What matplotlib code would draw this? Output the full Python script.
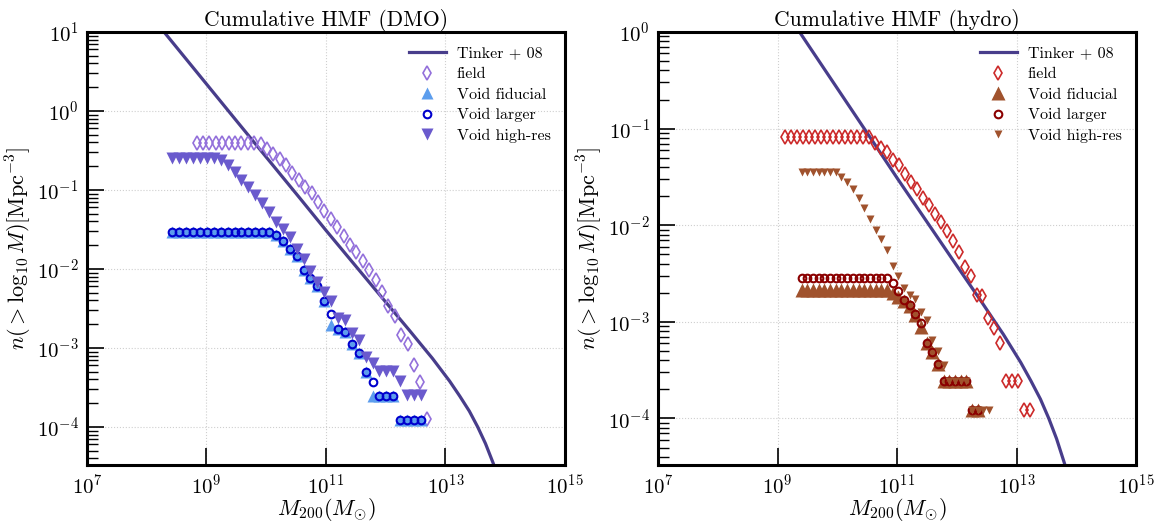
import numpy as np
import matplotlib
matplotlib.use("Agg")
import matplotlib.pyplot as plt
from matplotlib.ticker import FixedLocator, NullLocator, LogLocator

plt.rcParams["font.family"] = "serif"
plt.rcParams["font.serif"] = ["cmr10"]
plt.rcParams["mathtext.fontset"] = "cm"
plt.rcParams["axes.formatter.use_mathtext"] = True
plt.rcParams["axes.unicode_minus"] = False

# Tinker+08 cumulative mass function (log10 M, log10 n)
tinker_logm = [8.00, 8.29, 9.53, 10.57, 11.01, 11.99, 12.40, 12.66, 12.78, 12.91, 13.07,
               13.24, 13.40, 13.54, 13.67, 13.80, 13.92]
tinker_logn = [1.27, 1.00, -0.15, -1.11, -1.52, -2.41, -2.78, -3.02, -3.13, -3.26, -3.42,
               -3.61, -3.80, -4.00, -4.21, -4.46, -4.72]

# ---- DMO panel ----
dmo_field_logm = [8.835, 8.942, 9.049, 9.156, 9.263, 9.370, 9.477, 9.584, 9.691, 9.798,
                  9.905, 10.012, 10.119, 10.226, 10.333, 10.440, 10.547, 10.654, 10.761, 10.868,
                  10.975, 11.082, 11.189, 11.296, 11.403, 11.510, 11.617, 11.724, 11.831, 11.938,
                  12.045, 12.152, 12.259, 12.366, 12.473, 12.580, 12.687]
dmo_field_logn = [-0.40, -0.40, -0.40, -0.40, -0.40, -0.40, -0.40, -0.40, -0.40, -0.40,
                  -0.42, -0.48, -0.54, -0.61, -0.69, -0.78, -0.87, -0.96, -1.04, -1.15,
                  -1.26, -1.37, -1.47, -1.58, -1.70, -1.78, -1.90, -2.01, -2.14, -2.29,
                  -2.47, -2.59, -2.84, -2.95, -3.21, -3.43, -3.90]

dmo_void_logm = [8.430, 8.546, 8.661, 8.777, 8.892, 9.008, 9.123, 9.239, 9.354, 9.470,
                 9.585, 9.701, 9.816, 9.932, 10.047, 10.163, 10.278, 10.394, 10.509, 10.625,
                 10.740, 10.856, 10.971, 11.087, 11.202, 11.318, 11.433, 11.549, 11.664, 11.780,
                 11.895, 12.011, 12.126, 12.242, 12.357, 12.473, 12.588]
dmo_fid_logn = [-1.53, -1.53, -1.53, -1.53, -1.53, -1.53, -1.53, -1.53, -1.53, -1.53,
                -1.53, -1.53, -1.53, -1.53, -1.53, -1.57, -1.64, -1.75, -1.83, -2.01,
                -2.11, -2.22, -2.41, -2.71, -2.76, -2.80, -2.95, -3.07, -3.31, -3.61,
                -3.61, -3.61, -3.61, -3.91, -3.91, -3.91, -3.91]
dmo_large_logn = [-1.53, -1.53, -1.53, -1.53, -1.53, -1.53, -1.53, -1.53, -1.53, -1.53,
                  -1.53, -1.53, -1.53, -1.53, -1.53, -1.57, -1.64, -1.75, -1.83, -2.01,
                  -2.11, -2.22, -2.41, -2.57, -2.76, -2.80, -2.95, -3.07, -3.31, -3.43,
                  -3.61, -3.61, -3.61, -3.91, -3.91, -3.91, -3.91]
dmo_hires_logn = [-0.59, -0.59, -0.59, -0.59, -0.59, -0.59, -0.59, -0.62, -0.69, -0.77,
                  -0.87, -0.96, -1.06, -1.16, -1.28, -1.41, -1.50, -1.60, -1.75, -1.88,
                  -2.02, -2.16, -2.29, -2.41, -2.62, -2.65, -2.81, -2.90, -3.11, -3.19,
                  -3.29, -3.29, -3.29, -3.42, -3.60, -3.60, -3.60]

# ---- hydro panel ----
hydro_field_logm = [9.13, 9.23, 9.33, 9.43, 9.53, 9.63, 9.73, 9.83, 9.93, 10.03,
                    10.13, 10.23, 10.33, 10.43, 10.53, 10.63, 10.73, 10.83, 10.93, 11.03,
                    11.13, 11.23, 11.33, 11.43, 11.53, 11.63, 11.73, 11.83, 11.93, 12.03,
                    12.13, 12.23, 12.33, 12.43, 12.53, 12.63, 12.73, 12.83, 12.93, 13.03,
                    13.13, 13.23]
hydro_field_logn = [-1.09, -1.09, -1.09, -1.09, -1.09, -1.09, -1.09, -1.09, -1.09, -1.09,
                    -1.09, -1.09, -1.09, -1.09, -1.09, -1.15, -1.20, -1.24, -1.32, -1.38,
                    -1.47, -1.55, -1.63, -1.72, -1.79, -1.88, -1.97, -2.06, -2.16, -2.28,
                    -2.43, -2.53, -2.72, -2.73, -2.96, -3.06, -3.22, -3.61, -3.61, -3.61,
                    -3.91, -3.91]

hydro_void_logm = [9.405, 9.500, 9.595, 9.690, 9.785, 9.880, 9.975, 10.070, 10.165, 10.260,
                   10.355, 10.450, 10.545, 10.640, 10.735, 10.830, 10.925, 11.020, 11.115, 11.210,
                   11.305, 11.400, 11.495, 11.590, 11.685, 11.780, 11.875, 11.970, 12.065, 12.160,
                   12.255, 12.350, 12.445, 12.540]
hydro_fid_logn = [-2.67, -2.67, -2.67, -2.67, -2.67, -2.67, -2.67, -2.67, -2.67, -2.67,
                  -2.67, -2.67, -2.67, -2.67, -2.67, -2.67, -2.70, -2.74, -2.78, -2.84,
                  -2.93, -3.05, -3.22, -3.31, -3.44, -3.61, -3.61, -3.61, -3.61, -3.61,
                  -3.91, -3.91]
hydro_large_logn = [-2.55, -2.55, -2.55, -2.55, -2.55, -2.55, -2.55, -2.55, -2.55, -2.55,
                    -2.55, -2.55, -2.55, -2.55, -2.55, -2.55, -2.60, -2.68, -2.77, -2.83,
                    -2.92, -3.01, -3.22, -3.31, -3.44, -3.61, -3.61, -3.61, -3.61, -3.61,
                    -3.91, -3.91]
hydro_hires_logn = [-1.45, -1.45, -1.45, -1.45, -1.45, -1.45, -1.45, -1.50, -1.55, -1.63,
                    -1.72, -1.82, -1.94, -2.05, -2.14, -2.26, -2.42, -2.53, -2.65, -2.72,
                    -2.76, -2.90, -2.98, -3.19, -3.30, -3.45, -3.61, -3.61, -3.61, -3.61,
                    -3.91, -3.91, -3.91, -3.91]

LINE_COL = "#483d8b"


def p(vals):
    return 10 ** np.asarray(vals)


def draw_panel(ax, title, ylim, field, fid, large, hires, cols, sizes):
    ax.plot(p(tinker_logm), p(tinker_logn), color=LINE_COL, lw=2.3, label="Tinker + 08", zorder=2)
    ax.plot(p(field[0]), p(field[1]), ls="none", marker="d", ms=7, mfc="none",
            mec=cols[0], mew=1.2, label="field", zorder=3)
    ax.plot(p(fid[0][:len(fid[1])]), p(fid[1]), ls="none", marker="^", ms=sizes[0],
            color=cols[1], mec="none", label="Void fiducial", zorder=3)
    ax.plot(p(large[0][:len(large[1])]), p(large[1]), ls="none", marker="o", ms=5.5,
            mfc="none", mec=cols[2], mew=1.5, label="Void larger", zorder=4)
    ax.plot(p(hires[0][:len(hires[1])]), p(hires[1]), ls="none", marker="v", ms=sizes[1],
            color=cols[3], mec="none", label="Void high-res", zorder=4)

    ax.set_xscale("log")
    ax.set_yscale("log")
    ax.set_xlim(1e7, 1e15)
    ax.set_ylim(*ylim)
    ax.xaxis.set_major_locator(FixedLocator([1e7, 1e9, 1e11, 1e13, 1e15]))
    ax.xaxis.set_minor_locator(NullLocator())
    ax.yaxis.set_major_locator(LogLocator(base=10, numticks=20))
    ax.yaxis.set_minor_locator(LogLocator(base=10, subs=np.arange(2, 10), numticks=20))
    ax.tick_params(which="both", direction="in", top=False, right=False)
    ax.tick_params(which="major", length=12, width=1.2, labelsize=15, pad=6)
    ax.tick_params(which="minor", length=8, width=1.0)
    for s in ax.spines.values():
        s.set_linewidth(2.2)
    ax.grid(True, which="major", ls=":", color="#cfcfcf", lw=0.8)
    ax.set_axisbelow(True)

    ax.set_title(title, fontsize=15.5, pad=4)
    ax.set_xlabel(r"$M_{200}(M_{\odot})$", fontsize=16, labelpad=-1)
    ax.set_ylabel(r"$n(>\log_{10}M)[{\rm Mpc}^{-3}]$", fontsize=16, labelpad=2)
    ax.legend(loc="upper right", frameon=False, fontsize=11.5, numpoints=1,
              handlelength=2.3, handletextpad=0.7, labelspacing=0.4, borderaxespad=0.5)


fig = plt.figure(figsize=(11.61, 5.25), dpi=100)
ax1 = fig.add_axes([0.0749, 0.1143, 0.4117, 0.8248])
ax2 = fig.add_axes([0.5668, 0.1143, 0.4117, 0.8248])

draw_panel(ax1, "Cumulative HMF (DMO)", (3.3e-5, 10),
           (dmo_field_logm, dmo_field_logn),
           (dmo_void_logm, dmo_fid_logn),
           (dmo_void_logm, dmo_large_logn),
           (dmo_void_logm, dmo_hires_logn),
           ["#9370db", "#5c9ded", "#0000cd", "#6a5acd"], (8.5, 8))
draw_panel(ax2, "Cumulative HMF (hydro)", (3.3e-5, 1),
           (hydro_field_logm, hydro_field_logn),
           (hydro_void_logm, hydro_fid_logn),
           (hydro_void_logm, hydro_large_logn),
           (hydro_void_logm, hydro_hires_logn),
           ["#cc2a2a", "#a0522d", "#8b0000", "#a0522d"], (10, 5.5))

fig.savefig("out.png", dpi=100)
